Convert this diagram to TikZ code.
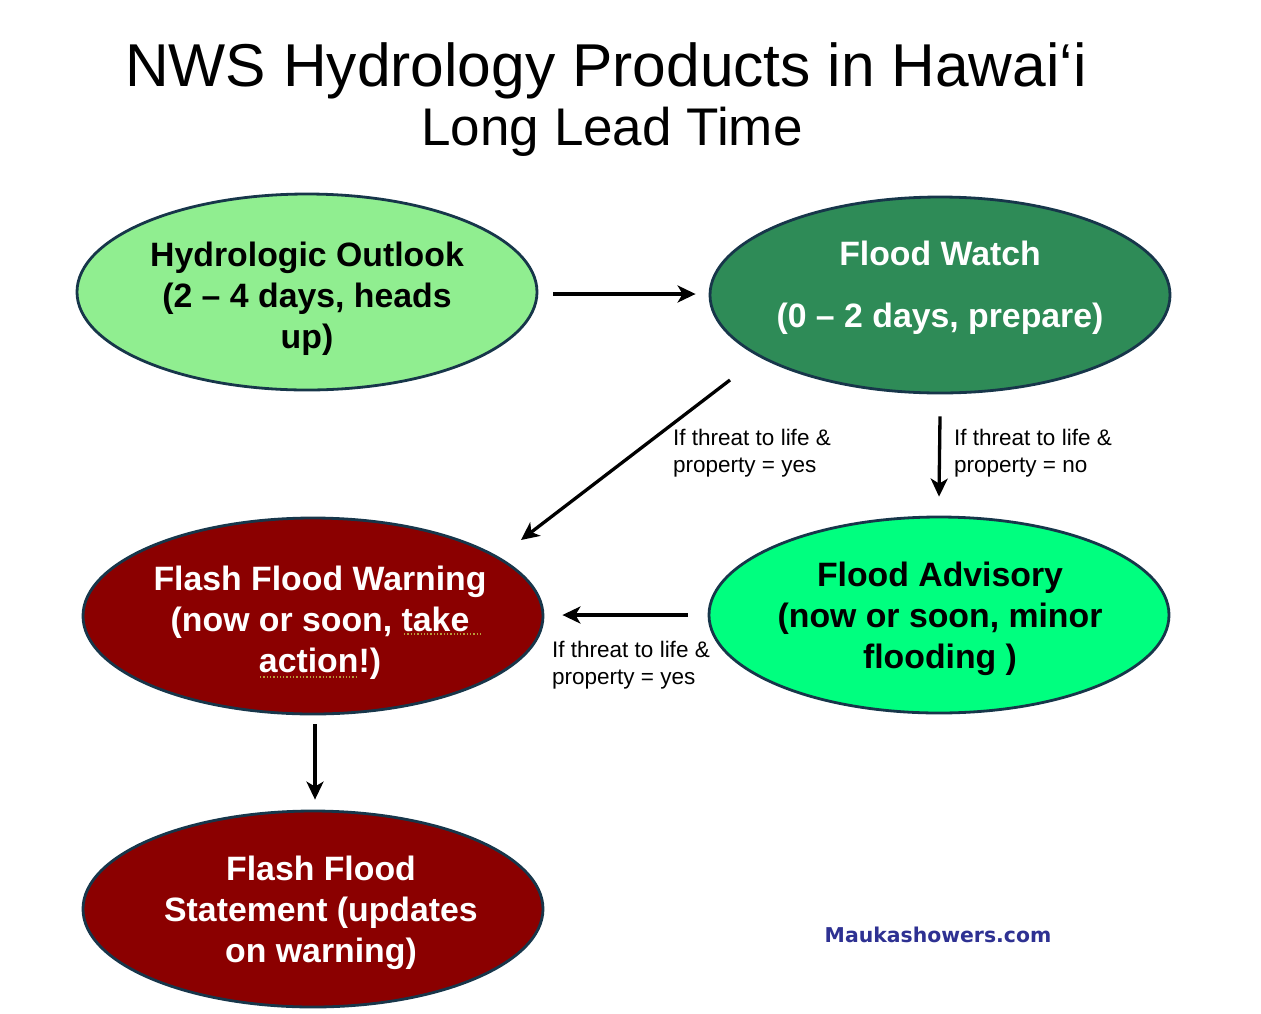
\documentclass[tikz,border=0pt]{standalone}
\usepackage{fontspec}
\setmainfont{Liberation Sans}
\newfontfamily\webfont{DejaVu Sans}
\usetikzlibrary{shapes.geometric,arrows.meta}
\definecolor{edgeC}{HTML}{17364A}
\definecolor{outlookC}{HTML}{90EE90}
\definecolor{watchC}{HTML}{2E8B57}
\definecolor{warnC}{HTML}{8B0000}
\definecolor{advC}{HTML}{00FF7F}
\definecolor{webC}{HTML}{2E3192}
\definecolor{spellC}{HTML}{B89B3A}
\begin{document}
\begin{tikzpicture}[x=1pt,y=-1pt,
  bubble/.style={ellipse,draw=edgeC,line width=2.8pt,minimum width=460pt,minimum height=196pt,inner sep=0pt},
  btext/.style={font=\bfseries\fontsize{33.8}{41}\selectfont,align=center,inner sep=0pt},
  lbl/.style={font=\fontsize{22.5}{27}\selectfont,align=left,anchor=west,inner sep=0pt},
  arr/.style={line width=3.3pt,-{Stealth[length=18pt,width=17pt,inset=5pt]}},
  spell/.style={spellC,line width=1.3pt,dotted}]
\useasboundingbox[fill=white] (0,0) rectangle (1261,1013);

% titles
\node[font=\fontsize{60.5}{66}\selectfont,inner sep=0pt] (title1) at (606,71) {NWS Hydrology Products in Hawai‘i};
\node[font=\fontsize{53}{58}\selectfont,inner sep=0pt] (title2) at (612,132) {Long Lead Time};

% ellipses
\node[bubble,fill=outlookC] (outlook) at (307,292) {};
\node[bubble,fill=watchC] (watch) at (940,295) {};
\node[bubble,fill=warnC] (warning) at (313,616) {};
\node[bubble,fill=advC] (advisory) at (939,615) {};
\node[bubble,fill=warnC] (statement) at (313,909) {};

% ellipse texts
\node[btext] (outlookT) at (307,299) {Hydrologic Outlook\\(2 -- 4 days, heads\\up)};
\node[btext,text=white] (watchT) at (940,288) {Flood Watch\\[21pt](0 -- 2 days, prepare)};
\node[btext,text=white] (warningT) at (320,623) {Flash Flood Warning\\(now or soon, take\\action!)};
\node[btext] (advisoryT) at (940,619) {Flood Advisory\\(now or soon, minor\\flooding )};
\node[btext,text=white] (statementT) at (321,913) {Flash Flood\\Statement (updates\\on warning)};

% spell-check marks
\draw[spell] (404,634) -- (481,634);
\draw[spell] (260,677) -- (357,677);

% connectors
\draw[arr] ([xshift=15pt,yshift=-2pt]outlook.east) -- ([xshift=-13pt,yshift=-2pt]outlook.east -| watch.west);
\draw[arr] ([shift={(-210pt,-85pt)}]watch.center) -- ([shift={(208pt,76pt)}]warning.center);
\draw[arr] ([yshift=-22pt]watch.south) -- ([yshift=19pt]advisory.north);
\draw[arr] ([xshift=-20pt]advisory.west) -- ([xshift=18pt]advisory.west -| warning.east);
\draw[arr] ([xshift=2pt,yshift=-9pt]warning.south) -- ([xshift=2pt,yshift=10pt]statement.north);

% labels
\node[lbl] (lblYes1) at (673,453) {If threat to life \&\\property = yes};
\node[lbl] (lblNo) at (954,453) {If threat to life \&\\property = no};
\node[lbl] (lblYes2) at (552,665) {If threat to life \&\\property = yes};

% website
\node[font=\webfont\bfseries\fontsize{20.4}{24}\selectfont,text=webC,inner sep=0pt] (web) at (938,935) {Maukashowers.com};
\end{tikzpicture}
\end{document}
